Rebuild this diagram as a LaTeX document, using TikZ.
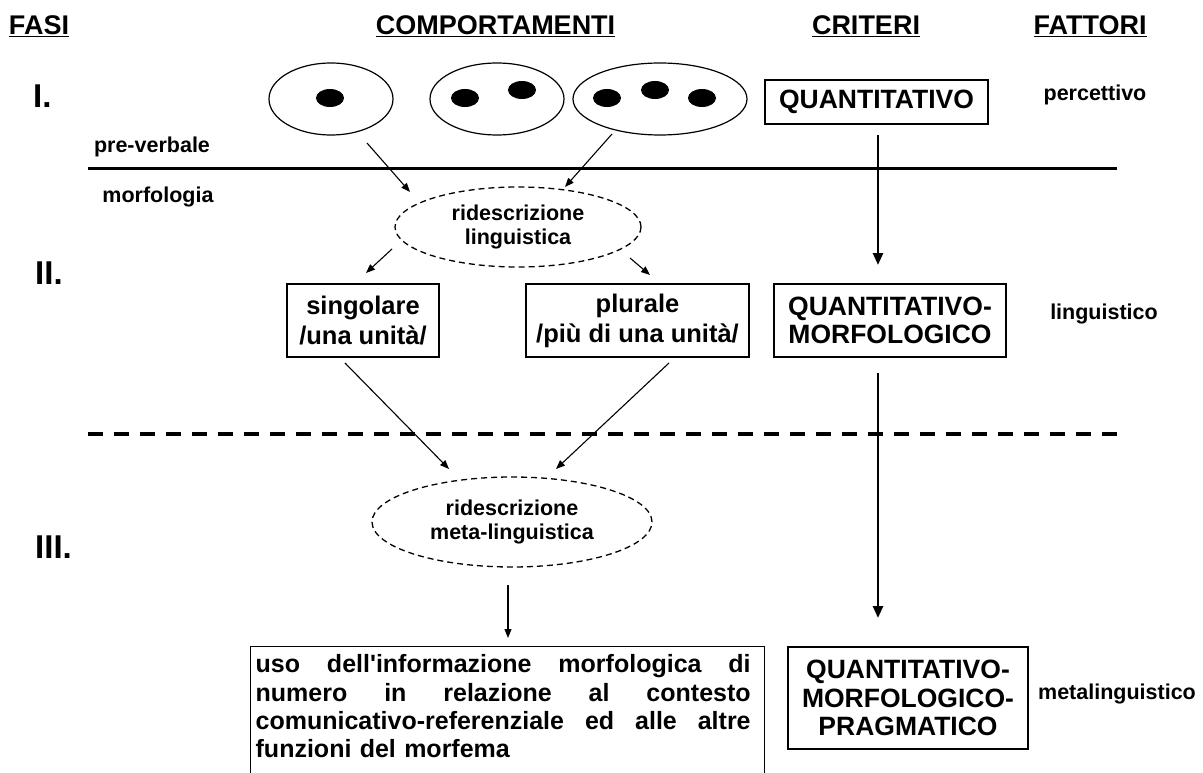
\documentclass[tikz,border=0pt]{standalone}
\usepackage{fontspec}
\setmainfont{Liberation Sans}
\usetikzlibrary{arrows.meta,shapes.geometric}
\newcommand{\jline}[1]{\leavevmode\hbox to 495pt{#1}}
\begin{document}
\begin{tikzpicture}[x=1pt,y=-1pt,
  hdr/.style={font=\fontsize{27}{30}\selectfont\bfseries, inner sep=0pt, anchor=base},
  roman/.style={font=\fontsize{33}{36}\selectfont\bfseries, inner sep=0pt, anchor=base west},
  lbl/.style={font=\fontsize{21.5}{24}\selectfont\bfseries, inner sep=0pt, anchor=base},
  blob/.style={ellipse, draw, line width=1.2pt, inner sep=0pt},
  dot/.style={ellipse, fill=black, minimum width=28pt, minimum height=18pt, inner sep=0pt},
  box/.style={draw, line width=1.3pt, align=center, inner sep=0pt, font=\fontsize{25.5}{30}\selectfont\bfseries},
  crit/.style={draw, line width=1.3pt, align=center, inner sep=0pt, font=\fontsize{26.5}{28.5}\selectfont\bfseries},
  dashell/.style={ellipse, draw, line width=1.3pt, dash pattern=on 6pt off 4pt, inner sep=0pt, align=center, font=\fontsize{21.5}{24.5}\selectfont\bfseries},
  arr/.style={-{Triangle[length=9pt,width=7pt]}, line width=1.1pt},
  bigarr/.style={-{Triangle[length=12pt,width=10pt]}, line width=2.5pt},
]
\useasboundingbox (0,0) rectangle (1203,773);

% headers
\node[hdr] (hfasi) at (39,35) {\underline{FASI}};
\node[hdr] (hcomp) at (495.5,35) {\underline{COMPORTAMENTI}};
\node[hdr] (hcrit) at (866,35) {\underline{CRITERI}};
\node[hdr] (hfatt) at (1090,35) {\underline{FATTORI}};

% phases
\node[roman] (r1) at (33,108) {I.};
\node[roman] (r2) at (35,284) {II.};
\node[roman] (r3) at (35,558) {III.};

% side labels
\node[lbl] (pv) at (152,153) {pre-verbale};
\node[lbl] (mf) at (158,203) {morfologia};
\node[lbl] (perc) at (1095,101) {percettivo};
\node[lbl] (ling) at (1104,319) {linguistico};
\node[lbl] (meta) at (1117,699) {metalinguistico};

% separators
\coordinate (s1l) at (88,169);
\coordinate (s1r) at (1117,169);
\draw[line width=3pt] (s1l) -- (s1r);
\coordinate (s2l) at (88,434);
\coordinate (s2r) at (1125,434);
\draw[line width=3.5pt, dash pattern=on 15pt off 11pt] (s2l) -- (s2r);

% perceptual sets
\node[blob, minimum width=124pt, minimum height=72pt] (e1) at (331,99) {};
\node[blob, minimum width=134pt, minimum height=72pt] (e2) at (497,99) {};
\node[blob, minimum width=174pt, minimum height=72pt] (e3) at (660,99) {};
\node[dot] (d1) at (330,98) {};
\node[dot] (d2) at (465,98) {};
\node[dot] (d3) at (522,90) {};
\node[dot] (d4) at (607,98) {};
\node[dot] (d5) at (655,90) {};
\node[dot] (d6) at (702,98) {};

% redescriptions
\node[dashell, minimum width=246pt, minimum height=80pt] (rl) at (518,227) {ridescrizione\\linguistica};
\node[dashell, minimum width=280pt, minimum height=90pt] (rm) at (512,522) {ridescrizione\\meta-linguistica};

% boxes
\node[box, minimum width=152pt, minimum height=73pt] (sing) at (363,320.5) {singolare\\/una unità/};
\node[box, minimum width=223pt, minimum height=73pt] (plur) at (637.5,320.5) {plurale\\/più di una unità/};

\node[crit, minimum width=223pt, minimum height=44pt] (q1) at (876.5,102) {QUANTITATIVO};
\node[crit, minimum width=232pt, minimum height=73pt] (q2) at (890,320.5) {QUANTITATIVO-\\MORFOLOGICO};
\node[crit, minimum width=240pt, minimum height=102pt] (q3) at (908,698) {QUANTITATIVO-\\MORFOLOGICO-\\PRAGMATICO};

\node[draw, line width=1.3pt, anchor=north west, inner xsep=5pt, inner ysep=8pt,
      text width=504pt, align=left, font=\fontsize{25}{28.3}\selectfont\bfseries] (uso) at (250,646)
 {\jline{uso\hfill dell\textquotesingle informazione\hfill morfologica\hfill di}\\
  \jline{numero\hfill in\hfill relazione\hfill al\hfill contesto}\\
  \jline{comunicativo-referenziale\hfill ed\hfill alle\hfill altre}\\
  funzioni del morfema\rule[-40pt]{0pt}{1pt}};

% connectors
\coordinate (a1s) at (367,143); \coordinate (a1e) at (410,192);
\coordinate (a2s) at (612,134); \coordinate (a2e) at (565,187);
\coordinate (a3s) at (392,249); \coordinate (a3e) at (366,273);
\coordinate (a4s) at (630,258); \coordinate (a4e) at (650,275);
\coordinate (a5s) at (345,363); \coordinate (a5e) at (449,469);
\coordinate (a6s) at (669,363); \coordinate (a6e) at (556,469);
\coordinate (a7s) at (508,585); \coordinate (a7e) at (508,638);
\coordinate (a8s) at (878,135); \coordinate (a8e) at (878,265);
\coordinate (a9s) at (878,373); \coordinate (a9e) at (878,618);

\draw[arr] (a1s) -- (a1e);
\draw[arr] (a2s) -- (a2e);
\draw[arr] (a3s) -- (a3e);
\draw[arr] (a4s) -- (a4e);
\draw[arr] (a5s) -- (a5e);
\draw[arr] (a6s) -- (a6e);
\draw[arr] (a7s) -- (a7e);
\draw[bigarr] (a8s) -- (a8e);
\draw[bigarr] (a9s) -- (a9e);
\end{tikzpicture}
\end{document}
